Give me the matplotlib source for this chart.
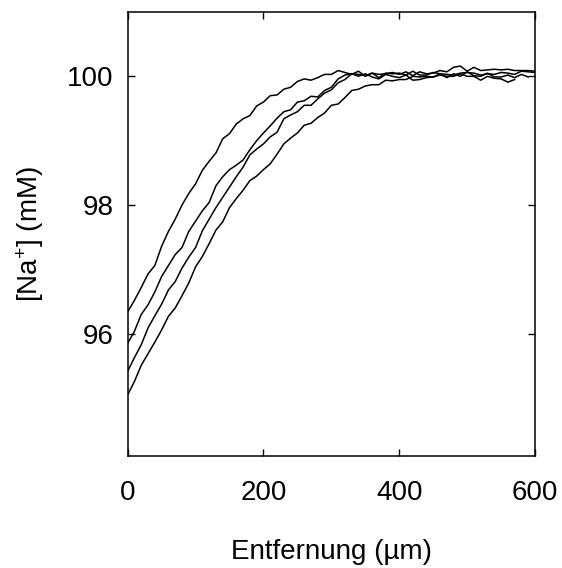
import matplotlib
matplotlib.use("Agg")
import matplotlib.pyplot as plt

plt.rcParams['font.family'] = ['Liberation Sans', 'DejaVu Sans']
plt.rcParams['mathtext.fontset'] = 'custom'
plt.rcParams['mathtext.rm'] = 'Liberation Sans'
plt.rcParams['mathtext.it'] = 'Liberation Sans'

# distance samples (µm)
distance = list(range(0, 601, 10))

trace1 = [96.34, 96.52, 96.72, 96.93, 97.06, 97.36, 97.59, 97.78, 98.00, 98.18,
          98.33, 98.54, 98.68, 98.81, 99.03, 99.11, 99.26, 99.34, 99.39, 99.54,
          99.60, 99.70, 99.71, 99.80, 99.83, 99.92, 99.96, 99.94, 99.98, 100.03,
          100.03, 100.09, 100.06, 100.03, 100.08, 100.00, 100.05, 100.03, 100.04, 100.06,
          100.03, 100.07, 100.01, 100.07, 100.04, 100.05, 100.09, 100.07, 100.14, 100.16,
          100.08, 100.14, 100.09, 100.10, 100.11, 100.10, 100.11, 100.09, 100.09, 100.09,
          100.08]

trace2 = [95.85, 96.04, 96.30, 96.45, 96.65, 96.89, 97.06, 97.23, 97.34, 97.59,
          97.75, 97.91, 98.04, 98.30, 98.44, 98.55, 98.62, 98.70, 98.86, 99.00,
          99.12, 99.23, 99.35, 99.45, 99.48, 99.60, 99.62, 99.69, 99.68, 99.78,
          99.83, 99.96, 100.02, 100.04, 100.03, 100.01, 100.05, 99.98, 100.05, 100.04,
          100.05, 100.02, 100.08, 100.02, 100.02, 100.06, 100.04, 100.03, 100.02, 100.05,
          100.06, 100.05, 100.02, 100.04, 100.03, 100.06, 100.05, 100.03, 100.08, 100.07,
          100.06]

trace3 = [95.42, 95.63, 95.83, 96.09, 96.28, 96.46, 96.68, 96.81, 97.02, 97.19,
          97.34, 97.60, 97.78, 97.96, 98.12, 98.28, 98.44, 98.59, 98.78, 98.87,
          98.95, 99.06, 99.13, 99.34, 99.40, 99.45, 99.55, 99.55, 99.65, 99.74,
          99.79, 99.90, 99.95, 100.04, 100.00, 100.04, 99.99, 99.96, 100.03, 100.00,
          99.98, 100.02, 99.94, 99.95, 99.98, 99.99, 100.02, 100.00, 100.00, 100.04,
          100.00, 100.00, 99.94, 100.00, 99.97, 99.96, 99.91, 99.95]

trace4 = [95.05, 95.26, 95.51, 95.69, 95.87, 96.06, 96.27, 96.40, 96.59, 96.79,
          97.04, 97.20, 97.40, 97.61, 97.74, 97.96, 98.10, 98.23, 98.38, 98.45,
          98.55, 98.64, 98.79, 98.95, 99.04, 99.12, 99.24, 99.27, 99.36, 99.43,
          99.55, 99.57, 99.67, 99.78, 99.80, 99.85, 99.87, 99.87, 99.94, 99.93,
          99.95, 99.95, 100.00, 99.99, 100.00, 99.99, 100.04, 99.98, 100.04, 100.00,
          100.07, 100.01, 100.00, 100.05, 99.99, 99.99, 100.02, 99.98, 100.03, 99.99]

traces = [trace1, trace2, trace3, trace4]

xticks = [0, 200, 400, 600]
yticks = [96, 98, 100]

fig = plt.figure(figsize=(5.62, 5.68), dpi=100)
ax = fig.add_axes([0.2272, 0.1972, 0.7248, 0.7817])

for tr in traces:
    ax.plot(distance[:len(tr)], tr, color='black', linewidth=1.1)

ax.set_xlim(0, 600)
ax.set_ylim(94.1, 101.0)
ax.set_xticks(xticks)
ax.set_yticks(yticks)
ax.set_xticklabels([str(v) for v in xticks])
ax.set_yticklabels([str(v) for v in yticks])

ax.tick_params(direction='in', length=5, width=1.0, top=True, right=True,
               labelsize=20, colors='black')
ax.tick_params(axis='x', pad=17)
ax.tick_params(axis='y', pad=10)
for sp in ax.spines.values():
    sp.set_linewidth(1.1)

ax.set_xlabel('Entfernung (µm)', fontsize=20, labelpad=24)
ax.set_ylabel('[Na$^{+}$] (mM)', fontsize=20, labelpad=15)

fig.savefig('out.png', dpi=100)
